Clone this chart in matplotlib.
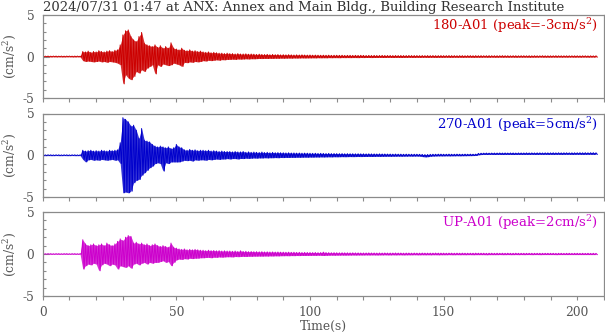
import numpy as np
import matplotlib
matplotlib.use("Agg")
import matplotlib.pyplot as plt
from matplotlib.ticker import MultipleLocator

TITLE = "2024/07/31 01:47 at ANX: Annex and Main Bldg., Building Research Institute"
CHANNELS = ["180-A01", "270-A01", "UP-A01"]
PEAKS = ["-3", "5", "2"]
COLORS = ["#cc0000", "#0000cc", "#cc00cc"]
X_TICKS = [0, 50, 100, 150, 200]
Y_TICKS = [-5, 0, 5]

# Envelope (local max / local min) of each trace, one value per second, t = 0..207 s
RED_HI = [
    0.05, 0.04, 0.05, 0.04, 0.05, 0.05, 0.04, 0.05, 0.04, 0.05,
    0.05, 0.04, 0.05, 0.05, 0.04, 0.60, 0.55, 0.65, 0.50, 0.60,
    0.55, 0.70, 0.60, 0.55, 0.65, 0.70, 0.60, 0.75, 0.80, 1.40,
    2.60, 3.10, 3.20, 2.40, 2.00, 1.80, 2.40, 2.90, 1.60, 1.40,
    1.30, 1.20, 1.40, 1.10, 1.30, 1.00, 1.20, 1.00, 1.65, 1.00,
    0.90, 0.80, 1.00, 0.75, 0.70, 0.80, 0.65, 0.70, 0.60, 0.65,
    0.55, 0.50, 0.55, 0.45, 0.50, 0.45, 0.40, 0.40, 0.35, 0.40,
    0.35, 0.35, 0.30, 0.35, 0.30, 0.30, 0.32, 0.28, 0.30, 0.28,
    0.25, 0.28, 0.25, 0.24, 0.26, 0.22, 0.25, 0.22, 0.24, 0.20,
    0.22, 0.20, 0.22, 0.20, 0.18, 0.20, 0.18, 0.20, 0.18, 0.17,
    0.18, 0.16, 0.17, 0.16, 0.15, 0.16, 0.15, 0.16, 0.14, 0.15,
    0.15, 0.14, 0.15, 0.13, 0.14, 0.14, 0.13, 0.14, 0.13, 0.14,
    0.13, 0.12, 0.13, 0.12, 0.13, 0.12, 0.12, 0.13, 0.12, 0.12,
    0.12, 0.11, 0.12, 0.11, 0.12, 0.11, 0.11, 0.12, 0.11, 0.11,
    0.11, 0.10, 0.11, 0.10, 0.11, 0.10, 0.11, 0.10, 0.10, 0.11,
    0.10, 0.10, 0.11, 0.10, 0.10, 0.09, 0.10, 0.10, 0.09, 0.10,
    0.10, 0.09, 0.10, 0.09, 0.10, 0.09, 0.09, 0.10, 0.09, 0.09,
    0.09, 0.09, 0.10, 0.09, 0.09, 0.08, 0.09, 0.09, 0.08, 0.09,
    0.09, 0.08, 0.09, 0.08, 0.09, 0.08, 0.08, 0.09, 0.08, 0.08,
    0.08, 0.08, 0.09, 0.08, 0.08, 0.08, 0.08, 0.08, 0.08, 0.08,
    0.08, 0.07, 0.08, 0.08, 0.07, 0.08, 0.07, 0.08,
]
RED_LO = [
    -0.05, -0.04, -0.05, -0.05, -0.04, -0.05, -0.04, -0.05, -0.05, -0.04,
    -0.04, -0.05, -0.05, -0.04, -0.05, -0.50, -0.60, -0.55, -0.60, -0.65,
    -0.60, -0.55, -0.65, -0.60, -0.70, -0.60, -0.65, -0.70, -0.80, -1.00,
    -3.30, -2.20, -2.60, -2.80, -2.40, -1.80, -2.00, -1.60, -1.80, -1.40,
    -1.20, -1.00, -2.10, -1.00, -1.20, -0.90, -1.00, -1.10, -1.00, -0.80,
    -0.90, -1.00, -1.20, -0.70, -0.75, -0.65, -0.70, -0.60, -0.65, -0.60,
    -0.50, -0.55, -0.45, -0.50, -0.45, -0.40, -0.45, -0.38, -0.40, -0.35,
    -0.35, -0.32, -0.35, -0.30, -0.32, -0.30, -0.28, -0.30, -0.27, -0.28,
    -0.26, -0.24, -0.25, -0.23, -0.24, -0.22, -0.23, -0.21, -0.22, -0.20,
    -0.21, -0.20, -0.19, -0.20, -0.18, -0.19, -0.18, -0.17, -0.18, -0.17,
    -0.17, -0.16, -0.17, -0.15, -0.16, -0.15, -0.16, -0.14, -0.15, -0.14,
    -0.14, -0.15, -0.13, -0.14, -0.13, -0.14, -0.13, -0.13, -0.14, -0.12,
    -0.13, -0.12, -0.12, -0.13, -0.12, -0.12, -0.11, -0.12, -0.12, -0.11,
    -0.11, -0.12, -0.11, -0.11, -0.12, -0.11, -0.11, -0.10, -0.11, -0.11,
    -0.10, -0.11, -0.10, -0.10, -0.11, -0.10, -0.10, -0.11, -0.10, -0.10,
    -0.10, -0.09, -0.10, -0.10, -0.09, -0.10, -0.09, -0.10, -0.09, -0.09,
    -0.09, -0.10, -0.09, -0.09, -0.09, -0.08, -0.09, -0.09, -0.08, -0.09,
    -0.09, -0.08, -0.09, -0.08, -0.09, -0.08, -0.08, -0.09, -0.08, -0.08,
    -0.08, -0.08, -0.09, -0.08, -0.08, -0.08, -0.07, -0.08, -0.08, -0.08,
    -0.08, -0.07, -0.08, -0.07, -0.08, -0.07, -0.08, -0.07, -0.07, -0.08,
    -0.07, -0.08, -0.07, -0.07, -0.08, -0.07, -0.07, -0.07,
]
BLUE_HI = [
    0.05, 0.04, 0.05, 0.05, 0.04, 0.05, 0.05, 0.04, 0.05, 0.05,
    0.04, 0.05, 0.05, 0.04, 0.05, 0.60, 0.50, 0.55, 0.60, 0.50,
    0.55, 0.50, 0.60, 0.55, 0.50, 0.60, 0.55, 0.60, 0.65, 1.50,
    4.50, 4.30, 4.00, 3.50, 3.60, 3.00, 2.00, 3.20, 1.80, 1.70,
    1.60, 1.30, 1.10, 1.00, 1.10, 1.00, 0.90, 1.00, 0.80, 0.90,
    1.30, 1.00, 0.90, 0.65, 0.60, 0.70, 0.60, 0.65, 0.55, 0.60,
    0.60, 0.55, 0.60, 0.50, 0.55, 0.50, 0.45, 0.50, 0.45, 0.45,
    0.45, 0.40, 0.45, 0.40, 0.40, 0.45, 0.35, 0.40, 0.35, 0.38,
    0.35, 0.33, 0.38, 0.32, 0.35, 0.30, 0.34, 0.30, 0.32, 0.30,
    0.30, 0.28, 0.30, 0.27, 0.28, 0.26, 0.27, 0.25, 0.26, 0.25,
    0.24, 0.23, 0.24, 0.22, 0.23, 0.22, 0.21, 0.22, 0.20, 0.21,
    0.20, 0.19, 0.20, 0.18, 0.19, 0.18, 0.18, 0.17, 0.18, 0.17,
    0.17, 0.16, 0.17, 0.16, 0.16, 0.15, 0.16, 0.15, 0.15, 0.14,
    0.14, 0.13, 0.14, 0.13, 0.13, 0.12, 0.13, 0.12, 0.12, 0.12,
    0.12, 0.11, 0.10, 0.08, 0.09, 0.11, 0.12, 0.12, 0.13, 0.13,
    0.12, 0.12, 0.13, 0.12, 0.12, 0.13, 0.12, 0.12, 0.13, 0.12,
    0.13, 0.12, 0.13, 0.22, 0.24, 0.25, 0.26, 0.25, 0.26, 0.26,
    0.26, 0.27, 0.26, 0.27, 0.26, 0.27, 0.27, 0.26, 0.27, 0.27,
    0.27, 0.28, 0.27, 0.28, 0.27, 0.28, 0.28, 0.27, 0.28, 0.28,
    0.28, 0.29, 0.28, 0.29, 0.28, 0.29, 0.29, 0.28, 0.29, 0.29,
    0.29, 0.30, 0.29, 0.30, 0.29, 0.30, 0.30, 0.29,
]
BLUE_LO = [
    -0.05, -0.05, -0.04, -0.05, -0.05, -0.04, -0.05, -0.05, -0.04, -0.05,
    -0.05, -0.04, -0.05, -0.05, -0.04, -0.50, -0.80, -0.55, -0.50, -0.60,
    -0.55, -0.60, -0.50, -0.55, -0.60, -0.55, -0.50, -0.60, -0.55, -1.00,
    -4.50, -4.40, -4.50, -4.30, -3.30, -3.00, -2.90, -2.40, -2.10, -1.80,
    -1.50, -1.30, -1.00, -0.90, -1.00, -1.90, -0.90, -1.00, -0.80, -0.80,
    -0.80, -0.80, -0.70, -0.60, -0.65, -0.60, -0.70, -0.55, -0.60, -0.55,
    -0.55, -0.60, -0.50, -0.55, -0.50, -0.45, -0.50, -0.45, -0.45, -0.40,
    -0.45, -0.40, -0.40, -0.45, -0.38, -0.40, -0.35, -0.38, -0.35, -0.33,
    -0.35, -0.32, -0.33, -0.30, -0.32, -0.30, -0.30, -0.28, -0.30, -0.27,
    -0.28, -0.26, -0.27, -0.25, -0.26, -0.24, -0.25, -0.24, -0.23, -0.24,
    -0.22, -0.23, -0.21, -0.22, -0.20, -0.21, -0.20, -0.19, -0.20, -0.18,
    -0.19, -0.18, -0.17, -0.18, -0.17, -0.16, -0.17, -0.16, -0.15, -0.16,
    -0.15, -0.15, -0.14, -0.15, -0.14, -0.13, -0.14, -0.13, -0.13, -0.12,
    -0.13, -0.12, -0.12, -0.11, -0.12, -0.11, -0.11, -0.10, -0.11, -0.10,
    -0.10, -0.11, -0.16, -0.20, -0.18, -0.12, -0.10, -0.09, -0.08, -0.08,
    -0.08, -0.07, -0.08, -0.07, -0.07, -0.06, -0.07, -0.06, -0.06, -0.05,
    -0.05, -0.04, -0.03, 0.05, 0.08, 0.10, 0.09, 0.10, 0.10, 0.09,
    0.10, 0.10, 0.09, 0.10, 0.10, 0.10, 0.09, 0.10, 0.10, 0.10,
    0.10, 0.10, 0.10, 0.11, 0.10, 0.10, 0.11, 0.10, 0.11, 0.10,
    0.11, 0.10, 0.11, 0.11, 0.10, 0.11, 0.11, 0.11, 0.10, 0.11,
    0.11, 0.11, 0.10, 0.11, 0.11, 0.11, 0.10, 0.11,
]
MAG_HI = [
    0.04, 0.03, 0.04, 0.04, 0.03, 0.04, 0.04, 0.03, 0.04, 0.04,
    0.03, 0.04, 0.04, 0.03, 0.04, 1.70, 1.20, 1.00, 1.10, 1.20,
    1.00, 1.10, 1.20, 1.00, 1.30, 1.10, 1.00, 1.20, 1.50, 1.80,
    1.60, 2.00, 2.20, 2.10, 1.30, 1.40, 1.20, 1.30, 1.10, 1.20,
    1.00, 1.10, 1.20, 1.00, 0.90, 1.00, 0.90, 0.80, 1.30, 0.80,
    0.70, 0.60, 0.55, 0.60, 0.50, 0.55, 0.50, 0.55, 0.50, 0.45,
    0.45, 0.40, 0.45, 0.40, 0.42, 0.38, 0.40, 0.35, 0.38, 0.35,
    0.35, 0.32, 0.35, 0.30, 0.38, 0.30, 0.32, 0.28, 0.30, 0.28,
    0.28, 0.26, 0.28, 0.25, 0.26, 0.24, 0.25, 0.23, 0.24, 0.22,
    0.22, 0.21, 0.22, 0.20, 0.21, 0.19, 0.20, 0.18, 0.19, 0.18,
    0.18, 0.17, 0.18, 0.16, 0.17, 0.22, 0.17, 0.16, 0.15, 0.16,
    0.15, 0.14, 0.15, 0.14, 0.14, 0.13, 0.14, 0.13, 0.13, 0.12,
    0.12, 0.12, 0.13, 0.12, 0.12, 0.11, 0.12, 0.11, 0.12, 0.11,
    0.11, 0.11, 0.12, 0.11, 0.11, 0.10, 0.11, 0.11, 0.10, 0.11,
    0.10, 0.10, 0.11, 0.10, 0.10, 0.10, 0.10, 0.11, 0.10, 0.10,
    0.10, 0.09, 0.10, 0.10, 0.09, 0.10, 0.09, 0.10, 0.09, 0.09,
    0.09, 0.09, 0.10, 0.09, 0.09, 0.09, 0.08, 0.09, 0.09, 0.08,
    0.09, 0.08, 0.09, 0.08, 0.09, 0.08, 0.08, 0.09, 0.08, 0.08,
    0.08, 0.08, 0.08, 0.08, 0.08, 0.08, 0.08, 0.08, 0.08, 0.08,
    0.08, 0.08, 0.07, 0.08, 0.08, 0.07, 0.08, 0.08, 0.07, 0.08,
    0.08, 0.07, 0.08, 0.07, 0.08, 0.07, 0.08, 0.07,
]
MAG_LO = [
    -0.04, -0.04, -0.03, -0.04, -0.04, -0.03, -0.04, -0.04, -0.03, -0.04,
    -0.04, -0.03, -0.04, -0.04, -0.03, -1.80, -1.40, -1.20, -1.30, -1.10,
    -1.20, -2.00, -1.30, -1.10, -1.20, -1.40, -1.20, -1.30, -1.80, -1.40,
    -1.50, -1.60, -1.40, -1.70, -1.20, -1.10, -1.30, -1.10, -1.00, -1.20,
    -1.00, -1.10, -1.00, -1.00, -0.90, -0.80, -1.00, -0.90, -1.40, -1.00,
    -0.70, -0.60, -0.65, -0.55, -0.60, -0.50, -0.55, -0.50, -0.50, -0.45,
    -0.45, -0.42, -0.40, -0.45, -0.38, -0.40, -0.35, -0.38, -0.35, -0.33,
    -0.33, -0.35, -0.30, -0.32, -0.30, -0.28, -0.30, -0.27, -0.28, -0.26,
    -0.26, -0.25, -0.26, -0.24, -0.25, -0.23, -0.24, -0.22, -0.23, -0.21,
    -0.21, -0.20, -0.21, -0.19, -0.20, -0.18, -0.19, -0.17, -0.18, -0.17,
    -0.17, -0.16, -0.17, -0.15, -0.16, -0.18, -0.16, -0.15, -0.14, -0.15,
    -0.14, -0.14, -0.13, -0.14, -0.13, -0.13, -0.12, -0.13, -0.12, -0.12,
    -0.12, -0.11, -0.12, -0.11, -0.11, -0.12, -0.11, -0.11, -0.10, -0.11,
    -0.11, -0.10, -0.11, -0.10, -0.10, -0.11, -0.10, -0.10, -0.10, -0.09,
    -0.10, -0.10, -0.09, -0.10, -0.09, -0.10, -0.09, -0.09, -0.10, -0.09,
    -0.09, -0.09, -0.08, -0.09, -0.09, -0.08, -0.09, -0.08, -0.09, -0.08,
    -0.08, -0.09, -0.08, -0.08, -0.08, -0.08, -0.09, -0.08, -0.08, -0.08,
    -0.08, -0.07, -0.08, -0.08, -0.07, -0.08, -0.08, -0.07, -0.08, -0.07,
    -0.08, -0.07, -0.07, -0.08, -0.07, -0.07, -0.08, -0.07, -0.07, -0.07,
    -0.07, -0.07, -0.08, -0.07, -0.07, -0.07, -0.07, -0.07, -0.07, -0.07,
    -0.07, -0.07, -0.07, -0.07, -0.07, -0.07, -0.07, -0.07,
]

ENVELOPES = [(RED_HI, RED_LO), (BLUE_HI, BLUE_LO), (MAG_HI, MAG_LO)]

SERIF = ["DejaVu Serif", "Liberation Serif"]
plt.rcParams["font.family"] = SERIF
plt.rcParams["mathtext.fontset"] = "dejavuserif"
GREY = "#555555"
SPINE = "#8a8a8a"
FS = 8.8
FS_TXT = 9.5

fig = plt.figure(figsize=(6.05, 3.34), dpi=100)
W, H = 605.0, 334.0
left_px, right_px = 42.7, 604.0
panels_px = [(15.0, 98.0), (113.5, 197.0), (212.0, 296.0)]

for k, ((top, bot), (hi, lo), name, peak, col) in enumerate(
        zip(panels_px, ENVELOPES, CHANNELS, PEAKS, COLORS)):
    ax = fig.add_axes([left_px / W, 1 - bot / H, (right_px - left_px) / W, (bot - top) / H])
    hi = np.asarray(hi)
    lo = np.asarray(lo)
    t = np.arange(len(hi), dtype=float)
    # zig-zag trace through the local extremes
    tz = np.empty(2 * len(t))
    yz = np.empty(2 * len(t))
    tz[0::2] = t
    tz[1::2] = t + 0.5
    yz[0::2] = hi
    yz[1::2] = lo
    ax.fill_between(t, lo, hi, color=col, lw=0, alpha=0.8)
    ax.plot(tz, yz, color=col, lw=0.7)
    ax.set_xlim(0, 210)
    ax.set_ylim(-5, 5)
    ax.set_yticks(Y_TICKS)
    ax.set_yticklabels([str(v) for v in Y_TICKS])
    ax.yaxis.set_minor_locator(MultipleLocator(1))
    ax.set_xticks(X_TICKS)
    ax.xaxis.set_minor_locator(MultipleLocator(10))
    ax.tick_params(axis="y", which="both", direction="in", colors=SPINE,
                   labelcolor=GREY, labelsize=FS, pad=6)
    ax.tick_params(axis="y", which="major", length=4, width=0.8)
    ax.tick_params(axis="y", which="minor", length=2.5, width=0.8)
    ax.tick_params(axis="x", which="both", direction="out", colors=SPINE,
                   labelcolor=GREY, labelsize=FS, length=3, width=0.8, pad=4)
    for sp in ax.spines.values():
        sp.set_color(SPINE)
        sp.set_linewidth(0.9)
    ax.set_ylabel("(cm/s$^{2}$)", color=GREY, fontsize=FS)
    ax.yaxis.set_label_coords(-0.044, 0.5)
    if k < 2:
        ax.tick_params(axis="x", labelbottom=False)
    else:
        ax.set_xlabel("Time(s)", color=GREY, fontsize=FS, labelpad=1)
    ax.text(0.989, 0.87, f"{name} (peak={peak}cm/s$^{{2}}$)", transform=ax.transAxes,
            ha="right", va="center", color=col, fontsize=FS_TXT)

fig.text(43 / W, 1 - 8 / H, TITLE, ha="left", va="center", color="#333333", fontsize=FS_TXT)

fig.savefig("out.png", dpi=100)
